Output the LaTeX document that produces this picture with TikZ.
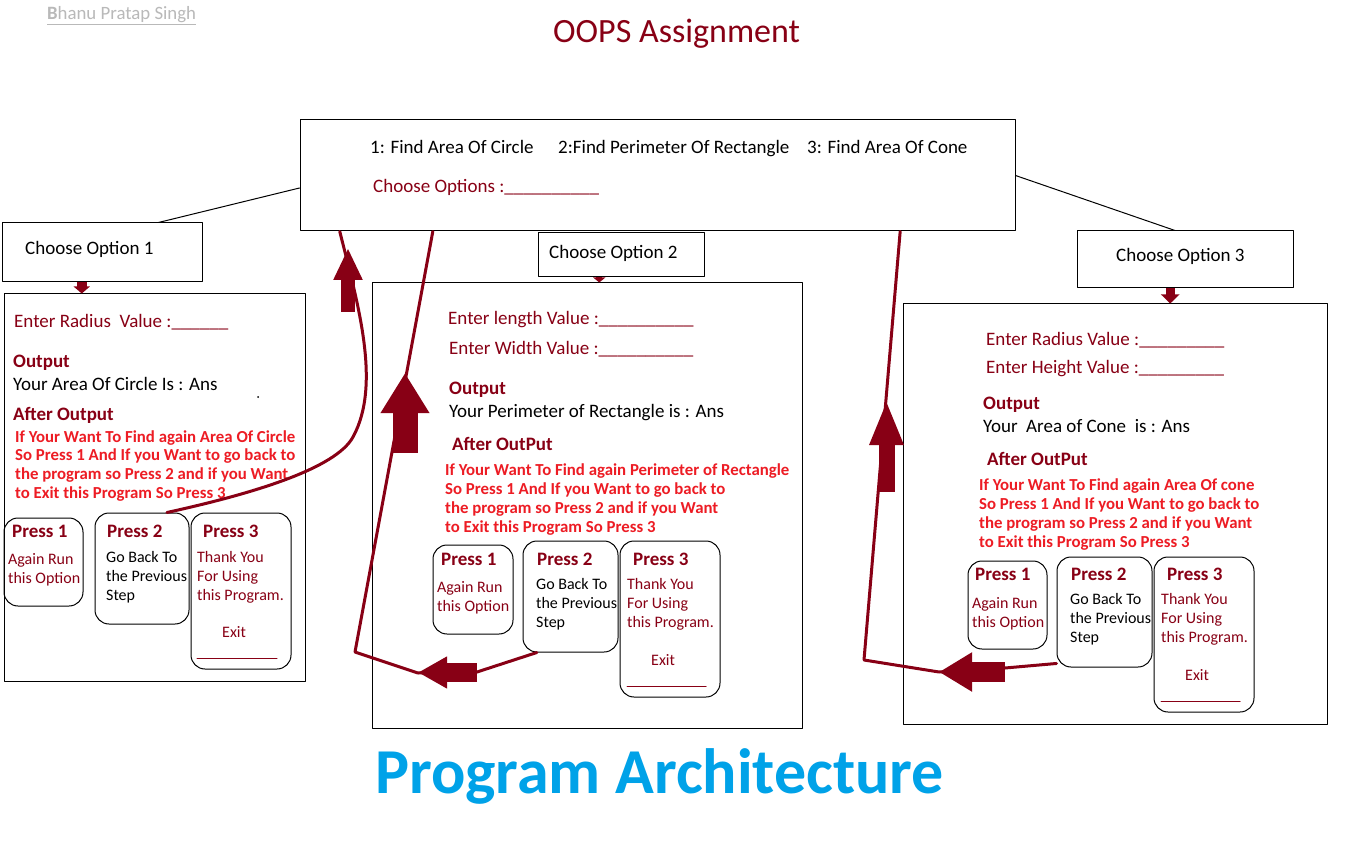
\documentclass[tikz,border=0pt]{standalone}
\usepackage{fontspec}
\setmainfont{Carlito}
\usetikzlibrary{arrows.meta}
\definecolor{dred}{RGB}{136,0,21}
\definecolor{pred}{RGB}{237,28,36}
\definecolor{pblue}{RGB}{0,162,232}
\definecolor{wgray}{RGB}{185,185,185}
\tikzset{
  box/.style={draw,line width=1pt,inner sep=0pt},
  pressbox/.style={draw,line width=1pt,rounded corners=14pt,inner sep=0pt},
  txt/.style={anchor=base west,inner sep=0pt},
  norm/.style={txt,font=\fontsize{19}{22}\selectfont},
  small/.style={txt,font=\fontsize{16}{19}\selectfont},
  head/.style={txt,text=dred,font=\bfseries\fontsize{19}{22}\selectfont},
  redtxt/.style={txt,text=pred,font=\bfseries\fontsize{16.8}{19}\selectfont},
  link/.style={draw=dred,line width=3pt},
  blockarrow/.style n args={3}{dred,line cap=butt,line width=#1,-{Triangle[length=#2,width=#3]}},
}
\begin{document}
\begin{tikzpicture}[line cap=round,line join=round,x=1pt,y=-1pt]
\useasboundingbox (0,0) rectangle (1368,850);
\fill[white] (0,0) rectangle (1368,850);
% heading
\node[txt,text=wgray,font=\fontsize{18.8}{20}\selectfont] (author) at (47,20) {\underline{\textbf{B}hanu Pratap Singh}};
\node[txt,text=dred,font=\fontsize{34}{40}\selectfont] (title) at (553,43) {OOPS Assignment};
% menu
\node[box,minimum width=715pt,minimum height=111pt] (menu) at (657.5,175.5) {};
\node[norm] (m1) at (370,154) {1: Find Area Of Circle};
\node[norm] (m2) at (558,154) {2:Find Perimeter Of Rectangle};
\node[norm] (m3) at (807,154) {3: Find Area Of Cone};
\node[norm,text=dred] (mc) at (373,193) {Choose Options :\_\_\_\_\_\_\_\_\_\_};
% option boxes
\node[box,minimum width=200pt,minimum height=59pt] (opt1) at (102,252.5) {};
\node[norm] (o1) at (25,255) {Choose Option 1};
\node[box,minimum width=166pt,minimum height=44pt] (opt2) at (621,255) {};
\node[norm] (o2) at (549,259) {Choose Option 2};
\node[box,minimum width=216pt,minimum height=57pt] (opt3) at (1185,259.5) {};
\node[norm] (o3) at (1116,262) {Choose Option 3};
\draw[line width=1pt] (menu.182) -- (opt1.28);
\draw[line width=1pt] (menu.east) -- (opt3.109);
% panel 1
\node[box,minimum width=301pt,minimum height=387pt] (panel1) at (154.5,487.5) {};
\node[norm,text=dred] (r1) at (14,327) {Enter Radius~ Value :\_\_\_\_\_\_};
\node[head] (out1) at (13,367) {Output};
\node[norm] (ans1) at (13,390) {Your Area Of Circle Is : Ans};
\fill (258,397) circle (1pt);
\node[head] (aft1) at (13,420) {After Output};
\foreach \l [count=\i] in {If Your Want To Find again Area Of Circle,So Press 1 And If you Want to go back to,the program so Press 2 and if you Want,to Exit this Program So Press 3}
  \node[redtxt] (ra\i) at (15,{442+18.7*(\i-1)}) {\l};
\node[pressbox,minimum width=79pt,minimum height=88pt] (p11) at (43.5,562) {};
\node[pressbox,minimum width=94pt,minimum height=111pt] (p12) at (142,568.5) {};
\node[pressbox,minimum width=100pt,minimum height=156pt] (p13) at (241,591) {};
\node[head] (h11) at (12,537) {Press 1};
\node[head] (h12) at (107,537) {Press 2};
\node[head] (h13) at (203,537) {Press 3};
\foreach \l [count=\i] in {Again Run,this Option}
  \node[small,text=dred] (a1\i) at (8,{564+19*(\i-1)}) {\l};
\foreach \l [count=\i] in {Go Back To,the Previous,Step}
  \node[small] (b1\i) at (106,{562+19*(\i-1)}) {\l};
\foreach \l [count=\i] in {Thank You,For Using,this Program.}
  \node[small,text=dred] (c1\i) at (197,{562+19*(\i-1)}) {\l};
\node[small,text=dred] (x1) at (222,637) {Exit};
\draw[dred,line width=1pt] (197,658) -- (277,658);
% panel 2
\node[box,minimum width=430pt,minimum height=445pt] (panel2) at (587,505.5) {};
\node[norm,text=dred] (l2) at (448,325) {Enter length Value :\_\_\_\_\_\_\_\_\_\_};
\node[norm,text=dred] (w2) at (449,354) {Enter Width Value :\_\_\_\_\_\_\_\_\_\_};
\node[head] (out2) at (449,394) {Output};
\node[norm] (ans2) at (449,417) {Your Perimeter of Rectangle is : Ans};
\node[head] (aft2) at (452,450) {After OutPut};
\foreach \l [count=\i] in {If Your Want To Find again Perimeter of Rectangle,So Press 1 And If you Want to go back to,the program so Press 2 and if you Want,to Exit this Program So Press 3}
  \node[redtxt] (rb\i) at (445,{475+19*(\i-1)}) {\l};
\node[pressbox,minimum width=80pt,minimum height=89pt] (p21) at (473,589.5) {};
\node[pressbox,minimum width=95pt,minimum height=111pt] (p22) at (570.5,596.5) {};
\node[pressbox,minimum width=100pt,minimum height=156pt] (p23) at (670,619) {};
\node[head] (h21) at (441,565) {Press 1};
\node[head] (h22) at (537,565) {Press 2};
\node[head] (h23) at (633,565) {Press 3};
\foreach \l [count=\i] in {Again Run,this Option}
  \node[small,text=dred] (a2\i) at (437,{592+19*(\i-1)}) {\l};
\foreach \l [count=\i] in {Go Back To,the Previous,Step}
  \node[small] (b2\i) at (536,{589+19*(\i-1)}) {\l};
\foreach \l [count=\i] in {Thank You,For Using,this Program.}
  \node[small,text=dred] (c2\i) at (627,{589+19*(\i-1)}) {\l};
\node[small,text=dred] (x2) at (651,665) {Exit};
\draw[dred,line width=1pt] (627,686) -- (706,686);
% panel 3
\node[box,minimum width=424pt,minimum height=420pt] (panel3) at (1115,514) {};
\node[norm,text=dred] (r3) at (986,345) {Enter Radius Value :\_\_\_\_\_\_\_\_\_};
\node[norm,text=dred] (h3) at (986,373) {Enter Height Value :\_\_\_\_\_\_\_\_\_};
\node[head] (out3) at (983,409) {Output};
\node[norm] (ans3) at (983,432) {Your~ Area of Cone~ is : Ans};
\node[head] (aft3) at (987,465) {After OutPut};
\foreach \l [count=\i] in {If Your Want To Find again Area Of cone,So Press 1 And If you Want to go back to,the program so Press 2 and if you Want,to Exit this Program So Press 3}
  \node[redtxt] (rc\i) at (979,{490+19*(\i-1)}) {\l};
\node[pressbox,minimum width=79pt,minimum height=88pt] (p31) at (1007.5,605) {};
\node[pressbox,minimum width=95pt,minimum height=110pt] (p32) at (1104.5,612) {};
\node[pressbox,minimum width=100pt,minimum height=155pt] (p33) at (1204,634.5) {};
\node[head] (h31) at (975,580) {Press 1};
\node[head] (h32) at (1071,580) {Press 2};
\node[head] (h33) at (1167,580) {Press 3};
\foreach \l [count=\i] in {Again Run,this Option}
  \node[small,text=dred] (a3\i) at (972,{608+19*(\i-1)}) {\l};
\foreach \l [count=\i] in {Go Back To,the Previous,Step}
  \node[small] (b3\i) at (1070,{604+19*(\i-1)}) {\l};
\foreach \l [count=\i] in {Thank You,For Using,this Program.}
  \node[small,text=dred] (c3\i) at (1161,{604+19*(\i-1)}) {\l};
\node[small,text=dred] (x3) at (1185,680) {Exit};
\draw[dred,line width=1pt] (1161,701) -- (1240,701);
% small arrows into the panels
\draw[blockarrow={10pt}{7pt}{16pt}] (opt1.236) -- (opt1.236 |- panel1.north);
\draw[blockarrow={6pt}{5pt}{12pt}] (opt2.226) -- (opt2.226 |- panel2.north);
\draw[blockarrow={9pt}{9pt}{18pt}] (opt3.243) -- (opt3.243 |- panel3.north);
% back links
\draw[link] (p12.66) .. controls (256,493) and (336,468) .. (353,437) .. controls (382,384) and (357,301) .. (menu.190);
\draw[blockarrow={14pt}{32pt}{27pt}] (348,312) -- (348,248);
\draw[link] (p22.239) -- (477,672) -- (418,673) -- (355,652) -- (menu.194);
\draw[blockarrow={25pt}{40pt}{46pt}] (405,453) -- (405,373);
\draw[blockarrow={19pt}{29pt}{30pt}] (477,672.5) -- (418,672.5);
\draw[link] (p32.227) -- (1005,668) -- (939,672) -- (864,660) -- (menu.347);
\draw[blockarrow={16pt}{45pt}{31pt}] (886.5,492) -- (886.5,400);
\draw[blockarrow={20pt}{33pt}{37pt}] (1005,672) -- (939,672);
% footer
\node[txt,text=pblue,font=\bfseries\fontsize{64}{70}\selectfont] (arch) at (375,793) {Program Architecture};
\end{tikzpicture}
\end{document}
